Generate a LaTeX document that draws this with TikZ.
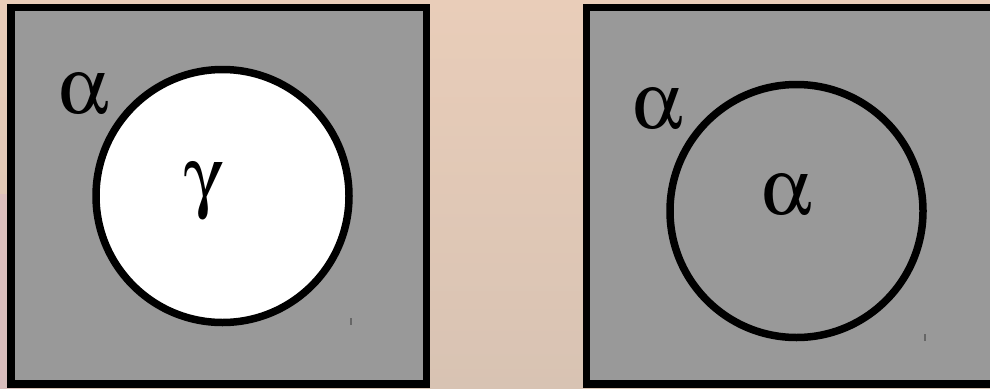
\documentclass[tikz,border=0pt]{standalone}
\usepackage[Symbol]{upgreek}
\begin{document}
\begin{tikzpicture}[x=1pt,y=-1pt,
  panel/.style={draw=black,line width=7.5pt,fill=panelgray},
  ring/.style={draw=black,line width=7.5pt},
  glyph/.style={font=\fontsize{80}{80}\selectfont,inner sep=0pt,text=black},
  tick/.style={draw=black!60,line width=1.6pt}]
\definecolor{panelgray}{HTML}{999999}
\definecolor{bgtop}{HTML}{E9CDB9}
\definecolor{bgmid}{HTML}{E2C2BB}
\definecolor{bgbot}{HTML}{D8C3B3}
\definecolor{bgpink}{HTML}{D9B7C6}
\useasboundingbox (0,0) rectangle (990,388);
\clip (0,0) rectangle (990,388);
\shade[top color=bgtop,middle color=bgmid,bottom color=bgbot] (0,0) rectangle (990,388);
\shade[left color=bgpink,right color=bgbot,opacity=0.5] (0,194) rectangle (40,388);
% left panel
\path[panel] (11,7.5) rectangle (426.5,384);
\node[ring,fill=white,circle,minimum size=253pt,inner sep=0pt] (c1) at (222.5,196) {};
\node[glyph] (a1) at (84,94) {$\upalpha$};
\node[glyph] (g1) at (204,191) {$\upgamma$};
\draw[tick] (351,318) -- (351,325);
% right panel
\path[panel] (586.5,7.5) rectangle (1010,384);
\node[ring,circle,minimum size=253pt,inner sep=0pt] (c2) at (796.5,211) {};
\node[glyph] (a2) at (658,109) {$\upalpha$};
\node[glyph] (a3) at (787,195) {$\upalpha$};
\draw[tick] (925,334) -- (925,341);
\end{tikzpicture}
\end{document}
